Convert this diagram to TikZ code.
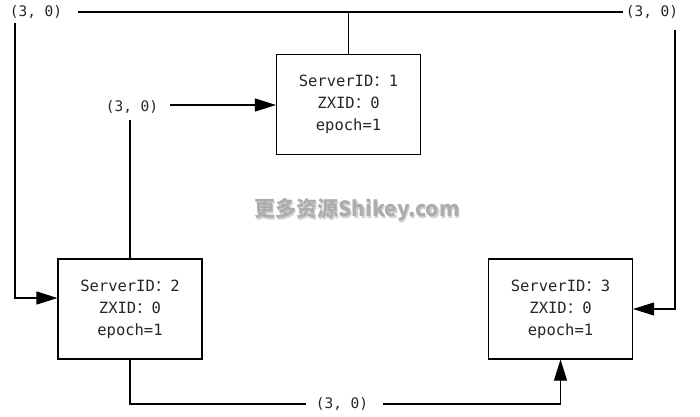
\documentclass[tikz,border=0pt]{standalone}
\usepackage{fontspec}
\setmonofont{DejaVu Sans Mono}
\newfontfamily\cjk{Noto Sans CJK SC}
\usetikzlibrary{arrows.meta,calc}
\begin{document}
\begin{tikzpicture}[x=1pt,y=-1pt,
  server/.style={draw,line width=1.1pt,minimum width=144pt,minimum height=100pt,align=center,font=\ttfamily\fontsize{15.5}{22}\selectfont,text=black!85},
  lbl/.style={font=\ttfamily\fontsize{14.5}{16}\selectfont,inner sep=0pt,text=black!85},
  conn/.style={line width=1.1pt},
  arr/.style={conn,-{Triangle[length=21pt,width=13pt]}}]
\useasboundingbox (0,0) rectangle (700,416);
\fill[white] (0,0) rectangle (700,416);
% servers
\node[server] (b1) at (348.5,104.5) {ServerID{\cjk ：}1\\ZXID{\cjk ：}0\\epoch=1};
\node[server] (b2) at (130,309) {ServerID{\cjk ：}2\\ZXID{\cjk ：}0\\epoch=1};
\node[server] (b3) at (560.5,309) {ServerID{\cjk ：}3\\ZXID{\cjk ：}0\\epoch=1};
% labels
\node[lbl] (lTL) at (36,12) {(3, 0)};
\node[lbl] (lTR) at (652,12) {(3, 0)};
\node[lbl] (lM)  at (132,107) {(3, 0)};
\node[lbl] (lB)  at (342,404) {(3, 0)};
% watermark
\node[font=\cjk\bfseries\fontsize{21}{22}\selectfont,text=black!18] at (358.5,211.5) {更多资源Shikey.com};
\node[font=\cjk\bfseries\fontsize{21}{22}\selectfont,text=black!32] (wm) at (357,210) {更多资源Shikey.com};
% connectors
\coordinate (tlS) at (78,12);
\coordinate (trE) at (623,12);
\draw[conn] (tlS) -- (trE);
\draw[conn] (b1.north) -- (b1.north |- tlS);
\coordinate (lv) at (15,23);
\draw[arr] (lv) |- ($(b2.west)+(0,-11)$);
\draw[arr] ($(lM.east)+(12,-2)$) -- (b1.west |- 0,105);
\draw[conn] (b2.north |- 0,120) -- (b2.north);
\draw[conn] (b2.south) |- ($(lB.west)+(-10,0)$);
\draw[arr] ($(lB.east)+(15,0)$) -| (b3.south);
\coordinate (rv) at (675,30);
\draw[arr] (rv) |- (b3.east);
\end{tikzpicture}
\end{document}
